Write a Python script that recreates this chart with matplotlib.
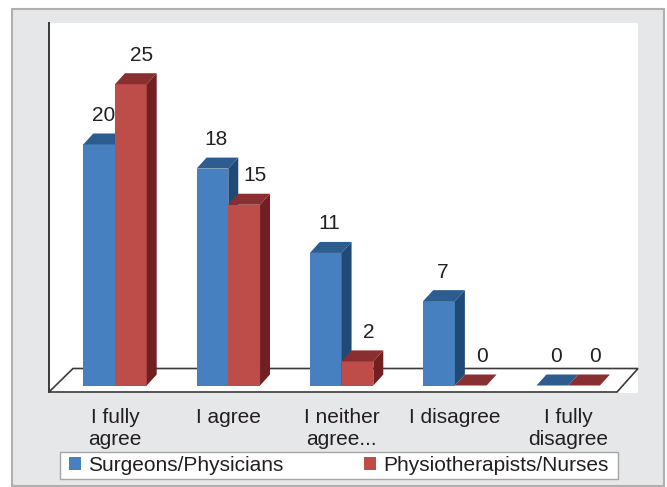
import matplotlib
matplotlib.use("Agg")
import numpy as np
import matplotlib.pyplot as plt
from matplotlib.patches import Polygon, Rectangle, Patch

categories = ["I fully\nagree", "I agree", "I neither\nagree...", "I disagree", "I fully\ndisagree"]
surgeons = [20, 18, 11, 7, 0]
physio = [25, 15, 2, 0, 0]
series_names = ["Surgeons/Physicians", "Physiotherapists/Nurses"]

plt.rcParams["font.family"] = ["Liberation Sans", "DejaVu Sans"]

# кольори граней: передня, верхня, бічна
BLUE = ("#4780c1", "#2d5d8e", "#1f4a78")
RED = ("#be4d4a", "#8a2f31", "#721f22")
TEXT = "#231f20"

W, H = 667, 487
fig = plt.figure(figsize=(W / 100, H / 100), dpi=100)

# сіра рамка навколо діаграми
frame = Rectangle((12 / W, 1 - 486 / H), 652 / W, 477 / H, transform=fig.transFigure,
                  facecolor="#e6e7e8", edgecolor="#b0b0b0", lw=1.5, zorder=-1)
fig.add_artist(frame)

ax = fig.add_axes([49 / W, 1 - 393 / H, 589 / W, 370 / H])
ax.set_facecolor("white")
for s in ax.spines.values():
    s.set_visible(False)

x_left, x_right = -0.5825, 4.616
ax.set_xlim(x_left, x_right)
ax.set_ylim(-0.622, 30.08)
ax.set_yticks([])

x = np.arange(len(categories))
w = 0.28
DX, DY = 0.088, 0.913   # глибина стовпчика

# підлога
floor_front, floor_back = -0.539, 1.411
floor = Polygon([(x_left, floor_front), (4.431, floor_front), (x_right, floor_back), (-0.371, floor_back)],
                closed=True, facecolor="white", edgecolor="#3a3a3a", lw=1.2, zorder=1, clip_on=False)
ax.add_patch(floor)
ax.plot([x_left, x_left], [floor_front, 30.08], color="#3a3a3a", lw=1.4, zorder=1, clip_on=False)


def draw_bar(x0, v, colors, z):
    front, top, side = colors
    ax.bar(x0, v, w, align="edge", color=front, lw=0, zorder=z)
    ax.add_patch(Polygon([(x0, v), (x0 + w, v), (x0 + w + DX, v + DY), (x0 + DX, v + DY)],
                         closed=True, facecolor=top, lw=0, zorder=z))
    if v > 0:
        ax.add_patch(Polygon([(x0 + w, 0), (x0 + w + DX, DY), (x0 + w + DX, v + DY), (x0 + w, v)],
                             closed=True, facecolor=side, lw=0, zorder=z))


for i in x:
    draw_bar(i - w, surgeons[i], BLUE, 3)
    draw_bar(i, physio[i], RED, 4)

# підписи значень
for i in x:
    ax.annotate(str(surgeons[i]), xy=(i - w / 2, surgeons[i] + DY), xytext=(4, 18),
                textcoords="offset pixels", ha="center", va="center", fontsize=15, color=TEXT)
    ax.annotate(str(physio[i]), xy=(i + w / 2, physio[i] + DY), xytext=(11, 18),
                textcoords="offset pixels", ha="center", va="center", fontsize=15, color=TEXT)

ax.set_xticks(x, categories)
ax.tick_params(axis="x", length=0, pad=11, labelsize=15, labelcolor=TEXT)
for t in ax.get_xticklabels():
    t.set_linespacing(1.2)

# легенда: рамка окремо, вміст розтягнуто по ширині
fig.add_artist(Rectangle((60 / W, 1 - 479 / H), 558 / W, 27 / H, transform=fig.transFigure,
                         facecolor="white", edgecolor="#a6a6a6", lw=1.0, zorder=4))
handles = [Patch(facecolor=BLUE[0], edgecolor="none", label=series_names[0]),
           Patch(facecolor=RED[0], edgecolor="none", label=series_names[1])]
leg = fig.legend(handles=handles, loc="center", bbox_to_anchor=(69 / W, 1 - 479 / H, 540 / W, 27 / H),
                 mode="expand", ncol=2, fontsize=15, frameon=False, borderaxespad=0,
                 handlelength=0.58, handleheight=0.58, handletextpad=0.35, borderpad=0)
leg.set_zorder(5)
for t in leg.get_texts():
    t.set_color(TEXT)

fig.savefig("out.png", dpi=100)
